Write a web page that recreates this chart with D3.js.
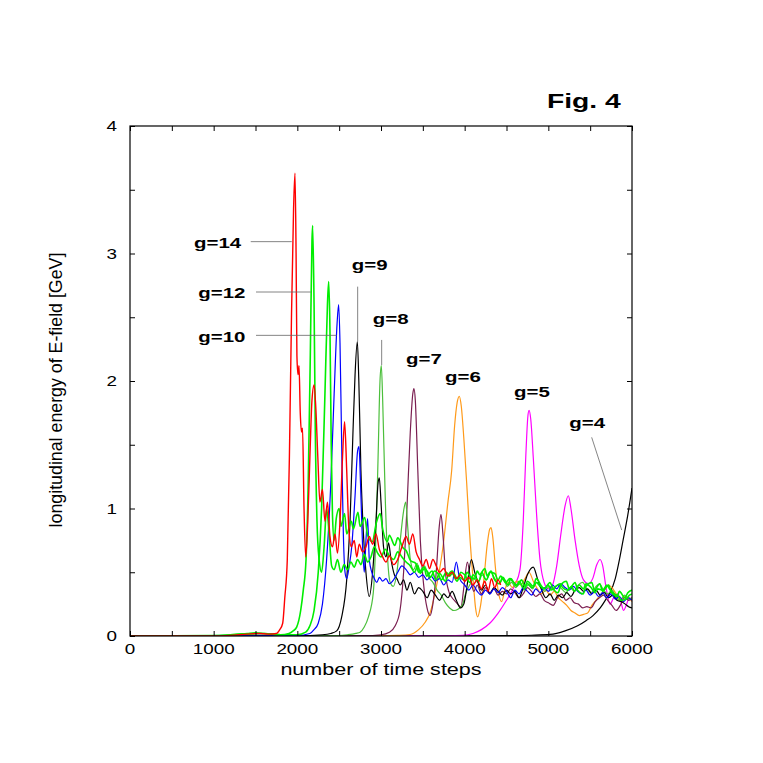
<!DOCTYPE html>
<html>
<head>
<meta charset="utf-8">
<script src="https://cdn.jsdelivr.net/npm/d3@7"></script>
<style>
  html, body { margin: 0; padding: 0; background: #fff; }
  svg text { font-family: "Liberation Sans", Arial, Helvetica, sans-serif; fill: #000; }
</style>
</head>
<body>
<svg id="chart" width="763" height="763"></svg>
<script>
// ---------------- data ----------------
const xTicks = [0, 1000, 2000, 3000, 4000, 5000, 6000];
const xMinorTicks = [500, 1500, 2500, 3500, 4500, 5500];
const yTicks = [0, 1, 2, 3, 4];
const yMinorTicks = [0.5, 1.5, 2.5, 3.5];
const xTitle = "number of time steps";
const yTitle = "longitudinal energy of E-field [GeV]";
const figTitle = "Fig. 4";

const seriesNames = ["g=4", "g=5", "g=6", "g=7", "g=8", "g=9", "g=10", "g=11", "g=12", "g=14"];
const seriesColors = ["#000000", "#ff00ff", "#ff9a1a", "#7a1e50", "#4cbf3c", "#000000", "#0000ff", "#00ee00", "#00ee00", "#ff0000"];

const g4 = [[0,0],[4000,0.001],[4500,0.003],[4800,0.006],[5020,0.012],[5200,0.04],[5350,0.08],[5450,0.12],[5534,0.16],[5620,0.22],[5700,0.3],[5737,0.34],[5800,0.45],[5850,0.6],[5893,0.75],[5950,0.95],[6000,1.16]];

const g5 = [[0,0],[3800,0.002],[3980,0.005],[4100,0.02],[4200,0.05],[4300,0.1],[4400,0.18],[4500,0.28],[4600,0.4],[4661,0.52],[4700,0.9],[4730,1.4],[4755,1.72],[4769,1.77],[4790,1.7],[4820,1.4],[4860,0.95],[4900,0.6],[4950,0.42],[5000,0.37],[5050,0.4],[5100,0.55],[5150,0.8],[5200,1.02],[5239,1.1],[5270,1.0],[5320,0.75],[5370,0.55],[5420,0.44],[5478,0.41],[5530,0.45],[5580,0.56],[5618,0.6],[5650,0.55],[5690,0.38],[5737,0.25],[5780,0.3],[5830,0.33],[5870,0.26],[5900,0.2],[5930,0.24],[5970,0.3],[6000,0.28]];

const g6 = [[0,0],[3000,0.002],[3200,0.005],[3347,0.012],[3450,0.05],[3530,0.11],[3586,0.18],[3650,0.35],[3700,0.52],[3741,0.7],[3800,1.05],[3845,1.3],[3880,1.65],[3910,1.83],[3936,1.88],[3960,1.8],[3990,1.55],[4024,1.2],[4060,0.8],[4100,0.45],[4130,0.22],[4155,0.15],[4185,0.22],[4230,0.45],[4270,0.72],[4300,0.84],[4315,0.85],[4335,0.78],[4370,0.52],[4410,0.32],[4442,0.27],[4480,0.36],[4520,0.42],[4570,0.38],[4620,0.43],[4670,0.4],[4721,0.45],[4770,0.5],[4820,0.43],[4870,0.37],[4920,0.33],[4970,0.36],[5020,0.32],[5070,0.35],[5120,0.3],[5170,0.27],[5220,0.24],[5270,0.2],[5320,0.18],[5370,0.16],[5420,0.17],[5470,0.18],[5520,0.24],[5570,0.28],[5620,0.32],[5670,0.36],[5720,0.4],[5760,0.38],[5810,0.33],[5860,0.28],[5910,0.31],[5960,0.3],[6000,0.27]];

const g7 = [[0,0],[2800,0.003],[3000,0.01],[3100,0.03],[3170,0.08],[3227,0.2],[3270,0.5],[3310,1.0],[3350,1.6],[3380,1.9],[3394,1.94],[3410,1.85],[3440,1.3],[3470,0.75],[3510,0.4],[3550,0.22],[3586,0.16],[3620,0.25],[3660,0.5],[3695,0.85],[3717,0.955],[3740,0.8],[3770,0.5],[3810,0.35],[3850,0.3],[3890,0.27],[3930,0.24],[3956,0.23],[3990,0.38],[4032,0.58],[4070,0.45],[4110,0.35],[4150,0.4],[4200,0.33],[4250,0.38],[4300,0.34],[4350,0.37],[4400,0.32],[4450,0.35],[4500,0.33],[4550,0.37],[4600,0.34],[4650,0.3],[4700,0.33],[4750,0.38],[4800,0.35],[4850,0.31],[4900,0.33],[4950,0.28],[5000,0.26],[5058,0.24],[5110,0.3],[5160,0.33],[5210,0.28],[5260,0.3],[5310,0.26],[5360,0.25],[5410,0.22],[5460,0.23],[5510,0.22],[5560,0.27],[5610,0.3],[5660,0.32],[5710,0.28],[5760,0.24],[5810,0.2],[5860,0.24],[5910,0.3],[5960,0.28],[6000,0.3]];

const g8 = [[0,0],[2400,0.003],[2600,0.01],[2700,0.02],[2750,0.03],[2800,0.07],[2850,0.15],[2908,0.34],[2940,0.8],[2965,1.4],[2988,2.0],[3004,2.12],[3020,1.85],[3050,1.1],[3080,0.6],[3110,0.42],[3147,0.39],[3190,0.5],[3230,0.75],[3270,0.98],[3295,1.05],[3320,0.85],[3350,0.6],[3390,0.52],[3430,0.57],[3470,0.5],[3520,0.55],[3570,0.46],[3620,0.42],[3670,0.36],[3720,0.32],[3770,0.26],[3820,0.22],[3870,0.2],[3920,0.21],[3970,0.24],[4010,0.33],[4060,0.4],[4110,0.45],[4160,0.42],[4210,0.48],[4260,0.44],[4310,0.5],[4360,0.45],[4410,0.41],[4460,0.45],[4510,0.39],[4560,0.42],[4610,0.38],[4660,0.41],[4710,0.36],[4760,0.4],[4810,0.37],[4860,0.42],[4910,0.38],[4960,0.35],[5010,0.39],[5060,0.36],[5110,0.4],[5160,0.37],[5210,0.34],[5260,0.38],[5310,0.35],[5360,0.4],[5410,0.42],[5460,0.37],[5510,0.34],[5560,0.38],[5610,0.41],[5660,0.36],[5710,0.33],[5760,0.36],[5810,0.3],[5860,0.28],[5910,0.32],[5960,0.29],[6000,0.3]];

const g9 = [[0,0],[2000,0.003],[2300,0.01],[2400,0.02],[2470,0.04],[2530,0.15],[2590,0.44],[2630,0.9],[2665,1.6],[2690,2.05],[2717,2.31],[2735,2.0],[2760,1.3],[2790,0.8],[2820,0.5],[2860,0.31],[2900,0.5],[2940,0.9],[2965,1.2],[2980,1.24],[3000,1.05],[3030,0.7],[3060,0.62],[3090,0.73],[3120,0.6],[3160,0.48],[3190,0.45],[3230,0.4],[3270,0.44],[3310,0.36],[3350,0.42],[3400,0.33],[3450,0.38],[3500,0.35],[3550,0.3],[3600,0.36],[3650,0.32],[3700,0.28],[3750,0.33],[3800,0.3],[3850,0.35],[3900,0.28],[3950,0.22],[3990,0.25],[4030,0.4],[4080,0.6],[4120,0.5],[4160,0.42],[4200,0.36],[4250,0.4],[4300,0.33],[4350,0.38],[4400,0.35],[4450,0.32],[4500,0.36],[4550,0.33],[4600,0.35],[4650,0.3],[4700,0.38],[4750,0.48],[4820,0.54],[4870,0.45],[4920,0.36],[4970,0.3],[5020,0.33],[5070,0.28],[5120,0.32],[5170,0.3],[5220,0.34],[5270,0.31],[5320,0.36],[5370,0.38],[5420,0.35],[5470,0.37],[5520,0.33],[5570,0.36],[5620,0.32],[5670,0.34],[5720,0.3],[5770,0.32],[5820,0.28],[5870,0.27],[5920,0.25],[5960,0.23],[6000,0.22]];

const g10 = [[0,0],[1500,0.005],[2000,0.005],[2150,0.02],[2200,0.05],[2250,0.1],[2300,0.25],[2350,0.6],[2400,1.2],[2440,1.9],[2475,2.45],[2494,2.6],[2510,2.3],[2530,1.5],[2550,0.8],[2570,0.5],[2590,0.45],[2620,0.55],[2650,0.7],[2690,1.1],[2720,1.45],[2737,1.485],[2755,1.2],[2780,0.7],[2800,0.5],[2820,0.75],[2840,0.92],[2860,0.6],[2890,0.5],[2920,0.45],[2950,0.42],[2980,0.46],[3020,0.43],[3060,0.45],[3100,0.41],[3150,0.44],[3200,0.5],[3250,0.55],[3300,0.52],[3350,0.48],[3400,0.5],[3450,0.46],[3500,0.48],[3550,0.44],[3600,0.47],[3650,0.43],[3700,0.45],[3750,0.4],[3800,0.44],[3850,0.42],[3900,0.58],[3940,0.45],[4000,0.4],[4050,0.36],[4100,0.4],[4150,0.35],[4200,0.32],[4250,0.36],[4300,0.33],[4350,0.37],[4400,0.34],[4450,0.38],[4500,0.35],[4550,0.3],[4600,0.36],[4650,0.33],[4700,0.38],[4750,0.35],[4800,0.32],[4850,0.37],[4900,0.34],[4950,0.38],[5000,0.35],[5050,0.4],[5100,0.37],[5150,0.41],[5200,0.38],[5250,0.36],[5300,0.39],[5350,0.35],[5400,0.33],[5450,0.36],[5500,0.32],[5550,0.35],[5600,0.31],[5650,0.34],[5700,0.3],[5750,0.33],[5800,0.29],[5850,0.31],[5900,0.27],[5950,0.3],[6000,0.28]];

const g11 = [[0,0],[1000,0.002],[1400,0.015],[1600,0.02],[1800,0.01],[2000,0.01],[2100,0.03],[2150,0.08],[2200,0.2],[2250,0.5],[2290,1.0],[2330,1.9],[2360,2.6],[2375,2.78],[2390,2.4],[2405,1.5],[2420,0.95],[2440,0.75],[2465,0.92],[2500,1.0],[2520,0.86],[2565,0.96],[2590,0.8],[2645,0.9],[2670,0.84],[2725,0.97],[2750,0.86],[2805,0.93],[2840,0.79],[2895,0.74],[2945,0.89],[2990,0.96],[3020,0.84],[3075,0.74],[3100,0.79],[3165,0.71],[3200,0.77],[3265,0.69],[3300,0.67],[3355,0.59],[3415,0.57],[3450,0.5],[3515,0.54],[3545,0.47],[3610,0.51],[3655,0.44],[3700,0.49],[3770,0.43],[3805,0.48],[3850,0.51],[3915,0.45],[3955,0.5],[4000,0.48],[4065,0.42],[4100,0.48],[4170,0.43],[4205,0.5],[4255,0.44],[4315,0.51],[4350,0.45],[4415,0.41],[4455,0.46],[4520,0.4],[4550,0.45],[4620,0.39],[4650,0.43],[4715,0.37],[4750,0.43],[4820,0.39],[4855,0.45],[4920,0.39],[4950,0.37],[5020,0.42],[5050,0.38],[5115,0.34],[5150,0.4],[5215,0.43],[5250,0.37],[5320,0.42],[5350,0.36],[5415,0.33],[5450,0.39],[5520,0.42],[5550,0.36],[5615,0.41],[5650,0.35],[5720,0.4],[5755,0.34],[5820,0.31],[5850,0.35],[5915,0.3],[5950,0.34],[6000,0.36]];

const g12 = [[0,0],[1000,0.003],[1200,0.01],[1400,0.02],[1500,0.025],[1600,0.02],[1700,0.015],[1800,0.01],[1900,0.02],[1950,0.04],[1992,0.07],[2040,0.2],[2071,0.36],[2104,0.6],[2130,1.2],[2155,2.2],[2175,3.1],[2183,3.22],[2200,2.6],[2215,1.6],[2235,0.9],[2260,0.6],[2290,0.5],[2320,0.7],[2350,1.0],[2380,0.8],[2410,0.55],[2440,0.52],[2480,0.6],[2520,0.5],[2560,0.56],[2600,0.52],[2640,0.58],[2680,0.54],[2720,0.6],[2760,0.56],[2800,0.64],[2840,0.58],[2880,0.62],[2920,0.7],[2960,0.65],[3000,0.62],[3050,0.68],[3100,0.63],[3150,0.6],[3200,0.66],[3250,0.62],[3300,0.58],[3350,0.55],[3400,0.5],[3440,0.55],[3470,0.49],[3520,0.53],[3560,0.5],[3590,0.46],[3640,0.51],[3690,0.48],[3720,0.44],[3780,0.5],[3820,0.47],[3850,0.49],[3910,0.43],[3940,0.46],[3990,0.44],[4030,0.5],[4060,0.47],[4120,0.45],[4150,0.51],[4180,0.48],[4240,0.53],[4270,0.47],[4300,0.5],[4360,0.49],[4400,0.44],[4430,0.47],[4490,0.42],[4540,0.45],[4570,0.43],[4630,0.4],[4680,0.44],[4720,0.39],[4750,0.41],[4810,0.38],[4860,0.42],[4890,0.4],[4950,0.37],[5000,0.4],[5030,0.36],[5090,0.39],[5140,0.41],[5170,0.38],[5230,0.36],[5280,0.39],[5310,0.35],[5370,0.4],[5420,0.37],[5450,0.41],[5510,0.38],[5560,0.34],[5590,0.37],[5650,0.36],[5700,0.4],[5730,0.37],[5790,0.33],[5840,0.31],[5870,0.28],[5930,0.29],[5970,0.32],[6000,0.33]];

const g14 = [[0,0],[1000,0],[1200,0.005],[1400,0.015],[1550,0.02],[1650,0.015],[1750,0.02],[1790,0.05],[1825,0.1],[1850,0.3],[1880,0.6],[1905,1.4],[1930,2.5],[1955,3.35],[1972,3.63],[1985,3.0],[1995,2.2],[2008,2.05],[2020,2.12],[2035,1.75],[2050,1.6],[2062,1.63],[2080,1.0],[2100,0.62],[2125,0.9],[2150,1.4],[2175,1.85],[2200,1.97],[2220,1.8],[2245,1.4],[2270,1.05],[2300,1.15],[2330,0.9],[2360,1.05],[2390,0.78],[2420,0.7],[2450,0.8],[2480,0.65],[2510,0.9],[2540,1.4],[2565,1.68],[2590,1.3],[2615,0.85],[2645,0.7],[2680,0.75],[2710,0.62],[2740,0.72],[2780,0.66],[2820,0.7],[2860,0.78],[2900,0.72],[2940,0.8],[2980,0.68],[3020,0.62],[3060,0.58],[3100,0.63],[3150,0.56],[3200,0.6],[3250,0.7],[3300,0.78],[3340,0.72],[3380,0.8],[3420,0.66],[3460,0.6],[3500,0.55],[3540,0.6],[3580,0.53],[3620,0.6],[3660,0.55],[3700,0.5],[3750,0.53],[3800,0.47],[3850,0.5],[3900,0.45],[3950,0.48],[4000,0.43],[4050,0.46],[4100,0.4],[4150,0.44],[4200,0.37],[4240,0.43],[4280,0.35],[4320,0.45],[4360,0.38],[4400,0.44],[4430,0.4]];

const seriesData = [g4, g5, g6, g7, g8, g9, g10, g11, g12, g14];

// annotations (data coordinates): label anchor and leader line
const labelTexts = ["g=14", "g=12", "g=10", "g=9", "g=8", "g=7", "g=6", "g=5", "g=4"];
const labelAt = [[765,3.045],[816,2.649],[816,2.308],[2650,2.871],[2901,2.447],[3299,2.131],[3765,1.99],[4590,1.877],[5251,1.629]];
const leaderLines = [
  [[1443,3.093],[1933,3.093]],
  [[1506,2.698],[2160,2.698]],
  [[1506,2.358],[2470,2.358]],
  [[2721,2.74],[2721,2.31]],
  [[3008,2.322],[3008,2.125]],
  [[5518,1.558],[5877,0.831]]
];

// ---------------- drawing ----------------
const svg = d3.select("#chart");
const mLeft = 130, mRight = 632, mTop = 126, mBottom = 636;

const x = d3.scaleLinear().domain([0, 6000]).range([mLeft, mRight]);
const y = d3.scaleLinear().domain([0, 4]).range([mBottom, mTop]);

const SX = 1.3; // horizontal stretch of the original's lettering

function stretchedText(g, px, py, str, anchor, size, weight, sx) {
  return g.append("text")
    .attr("transform", `translate(${px},${py}) scale(${sx},1)`)
    .attr("text-anchor", anchor)
    .attr("font-size", size)
    .attr("font-weight", weight)
    .text(str);
}

svg.append("defs").append("clipPath").attr("id", "plotclip")
  .append("rect").attr("x", mLeft).attr("y", mTop - 1).attr("width", mRight - mLeft).attr("height", mBottom - mTop + 1);

const line = d3.line()
  .x(d => x(d[0]))
  .y(d => y(d[1]))
  .curve(d3.curveMonotoneX);

const plot = svg.append("g").attr("clip-path", "url(#plotclip)");
seriesData.forEach((s, i) => {
  const name = seriesNames[i];
  const w = (name === "g=11" || name === "g=12") ? 1.6 : (name === "g=14" ? 1.4 : 1.2);
  plot.append("path")
    .datum(s)
    .attr("fill", "none")
    .attr("stroke", seriesColors[i])
    .attr("stroke-width", w)
    .attr("stroke-linejoin", "round")
    .attr("d", line);
});

svg.append("rect")
  .attr("x", mLeft).attr("y", mTop)
  .attr("width", mRight - mLeft).attr("height", mBottom - mTop)
  .attr("fill", "none").attr("stroke", "#000").attr("stroke-width", 1.2);

const tickLen = 5;
const axB = svg.append("g").attr("transform", `translate(0,${mBottom})`)
  .call(d3.axisBottom(x).tickValues(xTicks.concat(xMinorTicks)).tickSize(-tickLen).tickFormat(""));
const axT = svg.append("g").attr("transform", `translate(0,${mTop})`)
  .call(d3.axisTop(x).tickValues(xTicks.concat(xMinorTicks)).tickSize(-tickLen).tickFormat(""));
const axL = svg.append("g").attr("transform", `translate(${mLeft},0)`)
  .call(d3.axisLeft(y).tickValues(yTicks.concat(yMinorTicks)).tickSize(-tickLen).tickFormat(""));
const axR = svg.append("g").attr("transform", `translate(${mRight},0)`)
  .call(d3.axisRight(y).tickValues(yTicks.concat(yMinorTicks)).tickSize(-tickLen).tickFormat(""));
[axB, axT, axL, axR].forEach(a => {
  a.select(".domain").remove();
  a.selectAll(".tick line").attr("stroke", "#000").attr("stroke-width", 1);
});

const labels = svg.append("g");
xTicks.forEach(t => stretchedText(labels, x(t), mBottom + 18, String(t), "middle", 14.5, "normal", SX));
yTicks.forEach(v => stretchedText(labels, mLeft - 13, y(v) + 5.2, String(v), "end", 14.5, "normal", SX));

stretchedText(svg, (mLeft + mRight) / 2, 675, xTitle, "middle", 17.4, "normal", 1.24);
svg.append("text")
  .attr("transform", `translate(62,390) rotate(-90)`)
  .attr("text-anchor", "middle")
  .attr("font-size", 17.8)
  .text(yTitle);

stretchedText(svg, 547, 107.5, figTitle, "start", 19.5, "bold", 1.45);

const ann = svg.append("g");
leaderLines.forEach(l => {
  ann.append("line")
    .attr("x1", x(l[0][0])).attr("y1", y(l[0][1]))
    .attr("x2", x(l[1][0])).attr("y2", y(l[1][1]))
    .attr("stroke", "#666").attr("stroke-width", 0.8);
});
labelTexts.forEach((t, i) => {
  stretchedText(ann, x(labelAt[i][0]), y(labelAt[i][1]), t, "start", 15.5, "bold", 1.32);
});
</script>
</body>
</html>
